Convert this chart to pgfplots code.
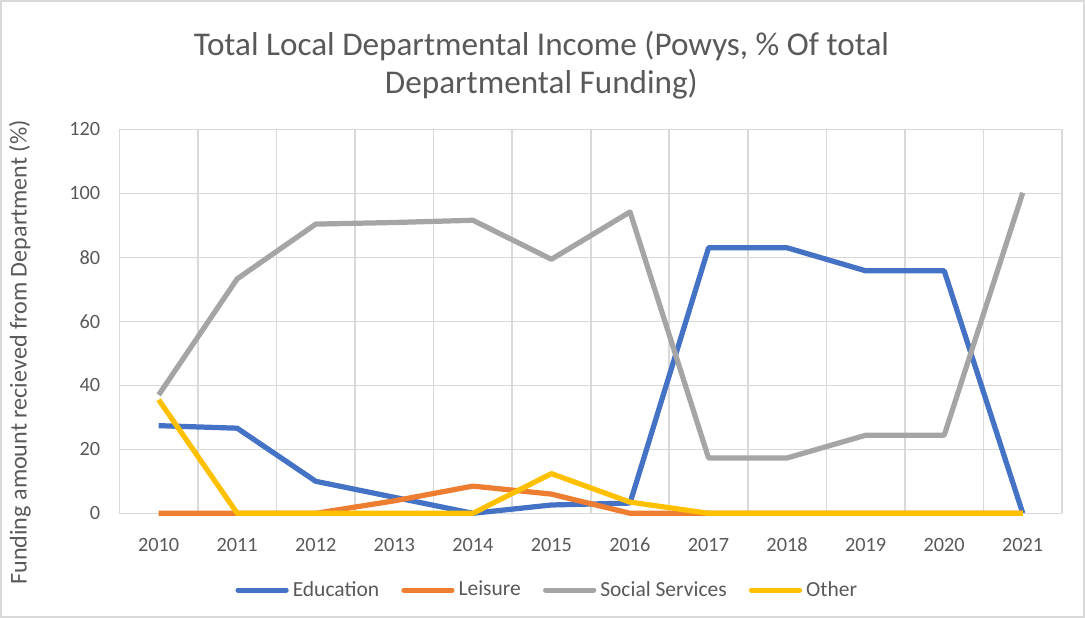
\documentclass[border=0pt]{standalone}
\usepackage{pgfplots}
\pgfplotsset{compat=1.18}
\usepackage{fontspec}
\setmainfont{Carlito}
\definecolor{edu}{HTML}{4472C4}
\definecolor{lei}{HTML}{ED7D31}
\definecolor{soc}{HTML}{A5A5A5}
\definecolor{oth}{HTML}{FFC000}
\definecolor{txt}{HTML}{595959}
\definecolor{grd}{HTML}{D9D9D9}
\begin{document}
\begin{tikzpicture}
\begin{axis}[
  scale only axis,
  width=469pt, height=191pt,
  xmin=2009.5, xmax=2021.5,
  ymin=0, ymax=120,
  xtick={2010,...,2021},
  minor xtick={2009.5,2010.5,...,2021.5},
  ytick={0,20,...,120},
  /pgf/number format/assume math mode=true,
  ticklabel style={font=\fontsize{10.1}{12}\selectfont, text=txt},
  xticklabel style={/pgf/number format/1000 sep={}, yshift=-8.5pt, text height=7pt, text depth=0pt},
  yticklabel style={xshift=-6pt},
  minor x grid style={grd, line width=0.8pt},
  ymajorgrids, xminorgrids,
  major grid style={grd, line width=0.8pt},
  axis line style={draw=none},
  major tick length=0pt, minor tick length=0pt,
  clip=false,
  legend style={at={(rel axis cs:0.455,-0.2)}, anchor=center, draw=none,
    legend columns=4, font=\fontsize{10.7}{12}\selectfont, text=txt,
    /tikz/every even column/.append style={column sep=9pt}},
  legend image code/.code={\draw[#1, line width=2.5pt, line cap=round] (0pt,0pt) -- (24pt,0pt);},
  every axis plot/.append style={line width=2.6pt, line join=round},
]
\draw[grd, line width=0.8pt] (rel axis cs:0,0) -- (rel axis cs:1,0);
\addplot[edu] coordinates {(2010,27.4) (2011,26.6) (2012,10) (2013,5) (2014,0) (2015,2.6) (2016,3.2) (2017,83) (2018,83) (2019,75.8) (2020,75.8) (2021,0)};
\addlegendentry{Education}
\addplot[lei] coordinates {(2010,0) (2011,0) (2012,0) (2013,3.9) (2014,8.5) (2015,6) (2016,0) (2017,0) (2018,0) (2019,0) (2020,0) (2021,0)};
\addlegendentry{Leisure}
\addplot[soc] coordinates {(2010,37) (2011,73.3) (2012,90.4) (2013,90.9) (2014,91.6) (2015,79.4) (2016,94.2) (2017,17.3) (2018,17.3) (2019,24.4) (2020,24.4) (2021,100.2)};
\addlegendentry{Social Services}
\addplot[oth] coordinates {(2010,35.5) (2011,0) (2012,0) (2013,0) (2014,0) (2015,12.4) (2016,3.5) (2017,0) (2018,0) (2019,0) (2020,0) (2021,0)};
\addlegendentry{Other}
\draw[grd, line width=0.8pt] (rel axis cs:-0.1258,-0.2696) rectangle (rel axis cs:1.0235,1.335);
\node[text=txt, font=\fontsize{16.5}{18.5}\selectfont, align=center] at (rel axis cs:0.4477,1.167) {Total Local Departmental Income (Powys, \% Of total\\Departmental Funding)};
\node[text=txt, font=\fontsize{12}{14}\selectfont, rotate=90] at (rel axis cs:-0.1055,0.419) {Funding amount recieved from Department (\%)};
\end{axis}
\end{tikzpicture}
\end{document}
